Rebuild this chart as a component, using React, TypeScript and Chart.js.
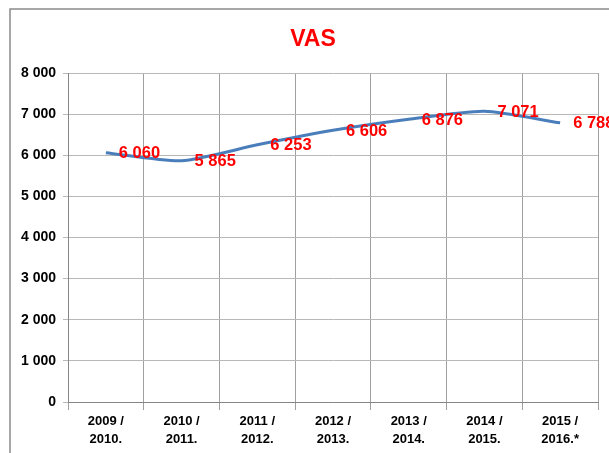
import React, { useEffect, useRef } from "react";
import { Chart, registerables } from "chart.js";
Chart.register(...registerables);

const title = "VAS";
const categories: string[][] = [
  ["2009 /", "2010."],
  ["2010 /", "2011."],
  ["2011 /", "2012."],
  ["2012 /", "2013."],
  ["2013 /", "2014."],
  ["2014 /", "2015."],
  ["2015 /", "2016.*"],
];
const values: number[] = [6060, 5865, 6253, 6606, 6876, 7071, 6788];
const yMin = 0;
const yMax = 8000;
const yStep = 1000;

const fmt = (n: number) => String(n).replace(/\B(?=(\d{3})+(?!\d))/g, " ");
const FONT = '"Liberation Sans", Arial, sans-serif';

const W = 630;
const H = 470;

const framePlugin = {
  id: "frame",
  beforeDraw(chart: any) {
    const ctx = chart.ctx;
    ctx.save();
    ctx.fillStyle = "#ffffff";
    ctx.fillRect(0, 0, chart.width, chart.height);
    ctx.strokeStyle = "#8a8a8a";
    ctx.lineWidth = 1.5;
    ctx.strokeRect(10, 9, 606, 470);
    ctx.restore();
  },
};

const titlePlugin = {
  id: "vasTitle",
  afterDraw(chart: any) {
    const ctx = chart.ctx;
    ctx.save();
    ctx.fillStyle = "#ff0000";
    ctx.font = `bold 23px ${FONT}`;
    ctx.textAlign = "center";
    ctx.textBaseline = "middle";
    ctx.fillText(title, 313, 40);
    ctx.restore();
  },
};

const labelPlugin = {
  id: "valueLabels",
  afterDatasetsDraw(chart: any) {
    const ctx = chart.ctx;
    const meta = chart.getDatasetMeta(0);
    ctx.save();
    ctx.fillStyle = "#ff0000";
    ctx.font = `bold 16.5px ${FONT}`;
    ctx.textAlign = "left";
    ctx.textBaseline = "middle";
    meta.data.forEach((pt: any, i: number) => {
      ctx.fillText(fmt(values[i]), pt.x + 13, pt.y + 1);
    });
    ctx.restore();
  },
};

export default function App() {
  const ref = useRef<HTMLCanvasElement | null>(null);
  useEffect(() => {
    document.body.style.margin = "0";
    const canvas = ref.current!;
    const chart = new Chart(canvas, {
      type: "line",
      data: {
        labels: categories,
        datasets: [
          {
            data: values,
            borderColor: "#4a7ebb",
            borderWidth: 3,
            tension: 0.22,
            pointRadius: 0,
            fill: false,
          },
        ],
      },
      options: {
        responsive: false,
        animation: false,
        devicePixelRatio: 1,
        layout: { padding: { left: 0, top: 73, right: 32, bottom: 0 } },
        plugins: {
          legend: { display: false },
          title: { display: false },
          tooltip: { enabled: false },
        },
        scales: {
          x: {
            offset: true,
            grid: {
              offset: true,
              color: "#a0a0a0",
              lineWidth: 1,
              tickLength: 8,
              drawTicks: true,
            },
            border: { color: "#868686", width: 1 },
            ticks: {
              color: "#000000",
              font: { family: FONT, size: 13, weight: "bold", lineHeight: 1.35 },
              padding: 3,
              maxRotation: 0,
              autoSkip: false,
            },
            afterFit(scale: any) {
              scale.height = 68;
            },
          },
          y: {
            min: yMin,
            max: yMax,
            grid: { color: "#b8b8b8", lineWidth: 1, tickLength: 5 },
            border: { color: "#868686", width: 1 },
            ticks: {
              stepSize: yStep,
              color: "#000000",
              font: { family: FONT, size: 14, weight: "bold" },
              padding: 7,
              callback: (v: any) => fmt(Number(v)),
            },
            afterFit(scale: any) {
              scale.width = 68;
            },
          },
        },
      } as any,
      plugins: [framePlugin, titlePlugin, labelPlugin],
    });
    return () => chart.destroy();
  }, []);

  return (
    <div style={{ position: "relative", width: 609, height: 453, overflow: "hidden", background: "#fff" }}>
      <canvas ref={ref} width={W} height={H} style={{ position: "absolute", left: 0, top: 0, width: W, height: H }} />
    </div>
  );
}
